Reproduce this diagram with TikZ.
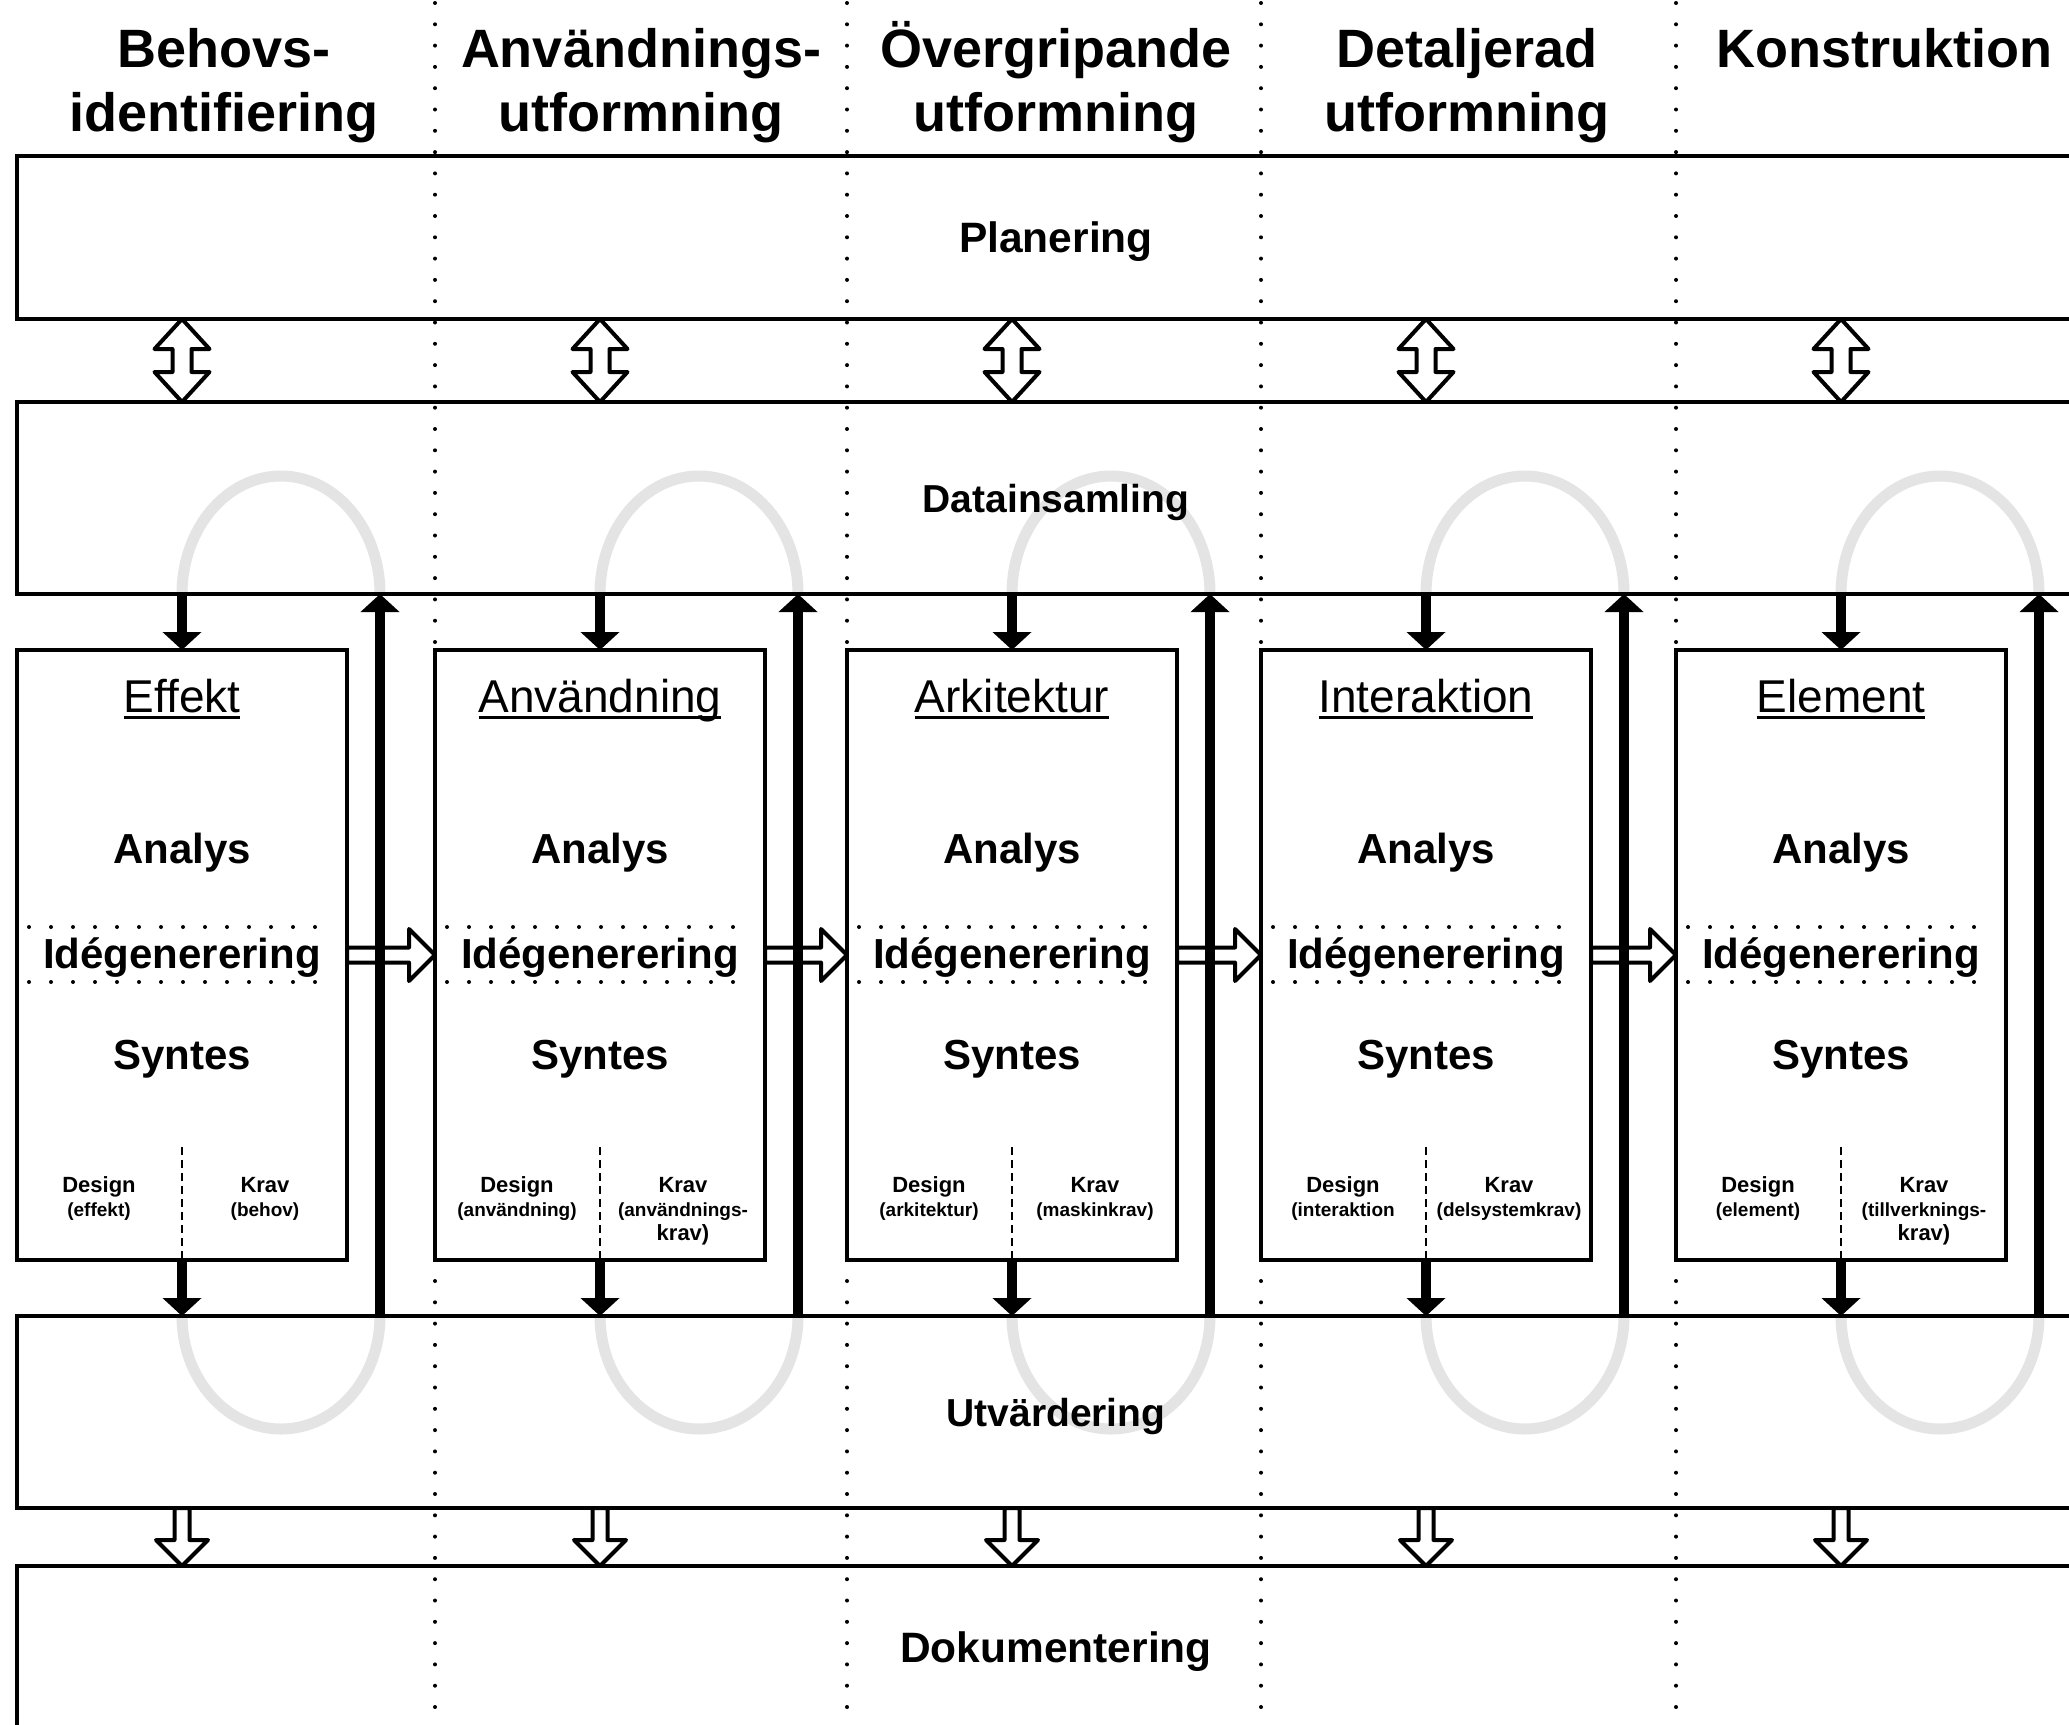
\documentclass[tikz,border=0pt]{standalone}
\usepackage{fontspec}
\setmainfont{Liberation Sans}
\usetikzlibrary{arrows.meta,calc}
\definecolor{loopgray}{RGB}{228,228,228}
\newsavebox\ulbox
\newcommand\ulx[1]{\sbox\ulbox{#1}\rlap{\rule[-7pt]{\wd\ulbox}{3pt}}\usebox\ulbox}
\newcommand\lowr[1]{\raisebox{-4pt}[\height][\depth]{#1}}
\begin{document}
\begin{tikzpicture}[x=1pt,y=-1pt,
  band/.style={draw, line width=3.5pt, outer sep=0pt, inner sep=0pt, minimum width=2078pt,
    font=\fontsize{42.5}{50}\selectfont\bfseries},
  smallband/.style={font=\fontsize{39}{46}\selectfont\bfseries},
  colbox/.style={draw, fill=white, line width=3.5pt, outer sep=0pt, inner sep=0pt,
    minimum width=330pt, minimum height=610pt},
  hdr/.style={font=\fontsize{54}{64}\selectfont\bfseries, inner sep=0pt, anchor=base},
  ttl/.style={font=\fontsize{46}{55}\selectfont, inner sep=0pt, anchor=base},
  phase/.style={font=\fontsize{42}{50}\selectfont\bfseries, inner sep=0pt, anchor=base},
  dk/.style={font=\fontsize{22}{24}\selectfont\bfseries, inner sep=0pt, anchor=base},
  loopline/.style={draw=loopgray, line width=11pt},
  coldiv/.style={line width=4pt, line cap=round, dash pattern=on 0pt off 21.3pt},
  hdots/.style={line width=4pt, line cap=round, dash pattern=on 0pt off 22pt},
  kdash/.style={line width=2.2pt, dash pattern=on 8pt off 5pt},
  hollow/.style={draw, fill=white, line width=4pt, line join=round},
  solidarrow/.style={line width=10pt, -{Triangle[length=18pt,width=38pt]}}
]
\useasboundingbox (0,0) rectangle (2069,1724);
\fill[white] (0,0) rectangle (2069,1724);
\clip (0,0) rectangle (2069,1724);

% column coordinates
\foreach \i/\cx in {0/182,1/600,2/1012,3/1426,4/1841}{
  \coordinate (c\i) at (\cx,0);
  \coordinate (u\i) at (\cx+198,0);
}

% grey loops (behind everything)
\foreach \i in {0,...,4}{
  \draw[loopline] (c\i |- 0,594) arc[start angle=180, end angle=0, x radius=99pt, y radius=118pt];
  \draw[loopline] (c\i |- 0,1316) arc[start angle=180, end angle=360, x radius=99pt, y radius=113pt];
}

% headers
\node[hdr] (h0a) at (224,67) {Behovs-};
\node[hdr] (h0b) at (224,131) {identifiering};
\node[hdr] (h1a) at (641,67) {Användnings-};
\node[hdr] (h1b) at (641,131) {utformning};
\node[hdr] (h2a) at (1056,67) {Övergripande};
\node[hdr] (h2b) at (1056,131) {utformning};
\node[hdr] (h3a) at (1467,67) {Detaljerad};
\node[hdr] (h3b) at (1467,131) {utformning};
\node[hdr] (h4a) at (1884,67) {Konstruktion};

% bands
\node[band, minimum height=163pt] (plan) at (1056,237.5) {\lowr{Planering}};
\node[band, smallband, minimum height=192pt] (data) at (1056,498) {\lowr{Datainsamling}};
\node[band, smallband, minimum height=192pt] (utv) at (1056,1412) {\lowr{Utvärdering}};
\node[band, minimum height=163pt] (dok) at (1056,1647.5) {\lowr{Dokumentering}};

% column dividers
\foreach \x in {435,847,1261,1676}{
  \draw[coldiv] (\x,3) -- (\x,1724);
}

% column boxes and their texts
\foreach \i/\cx/\t/\ds/\ks in {
  0/182/Effekt/{(effekt)}/{(behov)},
  1/600/Användning/{(användning)}/{(användnings-\\krav)},
  2/1012/Arkitektur/{(arkitektur)}/{(maskinkrav)},
  3/1426/Interaktion/{(interaktion}/{(delsystemkrav)},
  4/1841/Element/{(element)}/{(tillverknings-\\krav)}}{
  \node[colbox] (b\i) at (\cx,955) {};
  \node[ttl] (t\i) at (\cx,712) {\ulx{\t}};
  \node[phase] (a\i) at (\cx,863) {Analys};
  \node[phase] (g\i) at (\cx,968) {Idégenerering};
  \node[phase] (s\i) at (\cx,1069) {Syntes};
  \draw[hdots] ($(b\i.west)+(12,-28)$) -- ($(b\i.east)+(-12,-28)$);
  \draw[hdots] ($(b\i.west)+(12,27)$) -- ($(b\i.east)+(-12,27)$);
  \draw[kdash] ($(b\i.south)+(0,-113)$) -- (b\i.south);
  \node[dk] (d\i) at (\cx-83,1192) {\begin{tabular}[t]{@{}c@{}}Design\\\fontsize{19}{24}\selectfont\ds\end{tabular}};
  \node[dk] (k\i) at (\cx+83,1192) {\begin{tabular}[t]{@{}c@{}}Krav\\\fontsize{19}{24}\selectfont\ks\end{tabular}};
}

% double hollow arrows Planering <-> Datainsamling
\foreach \i in {0,...,4}{
  \draw[hollow] (c\i |- plan.south) -- ++(27.5,30) -- ++(-18,0)
    -- ($(c\i |- data.north)+(9.5,-30)$) -- ++(18,0) -- (c\i |- data.north)
    -- ++(-27.5,-30) -- ++(18,0) -- ($(c\i |- plan.south)+(-9.5,30)$) -- ++(-18,0) -- cycle;
}

% hollow arrows Utvaerdering -> Dokumentering
\foreach \i in {0,...,4}{
  \draw[hollow] ($(c\i |- utv.south)+(-7.5,0)$) -- ++(15,0) -- ++(0,32) -- ++(18.5,0)
    -- (c\i |- dok.north) -- ++(-26,-26) -- ++(18.5,0) -- cycle;
}

% hollow arrows between boxes
\foreach \i/\j in {0/1,1/2,2/3,3/4}{
  \draw[hollow] ($(b\i.east)+(0,-7.5)$) -- ($(b\j.west)+(-26,-7.5)$) -- ++(0,-18.5)
    -- (b\j.west) -- ++(-26,26) -- ++(0,-18.5) -- ($(b\i.east)+(0,7.5)$) -- cycle;
}

% solid arrows
\foreach \i in {0,...,4}{
  \draw[solidarrow] (c\i |- data.south) -- (b\i.north);
  \draw[solidarrow] (b\i.south) -- (c\i |- utv.north);
  \draw[solidarrow] (u\i |- utv.north) -- (u\i |- data.south);
}
\end{tikzpicture}
\end{document}
